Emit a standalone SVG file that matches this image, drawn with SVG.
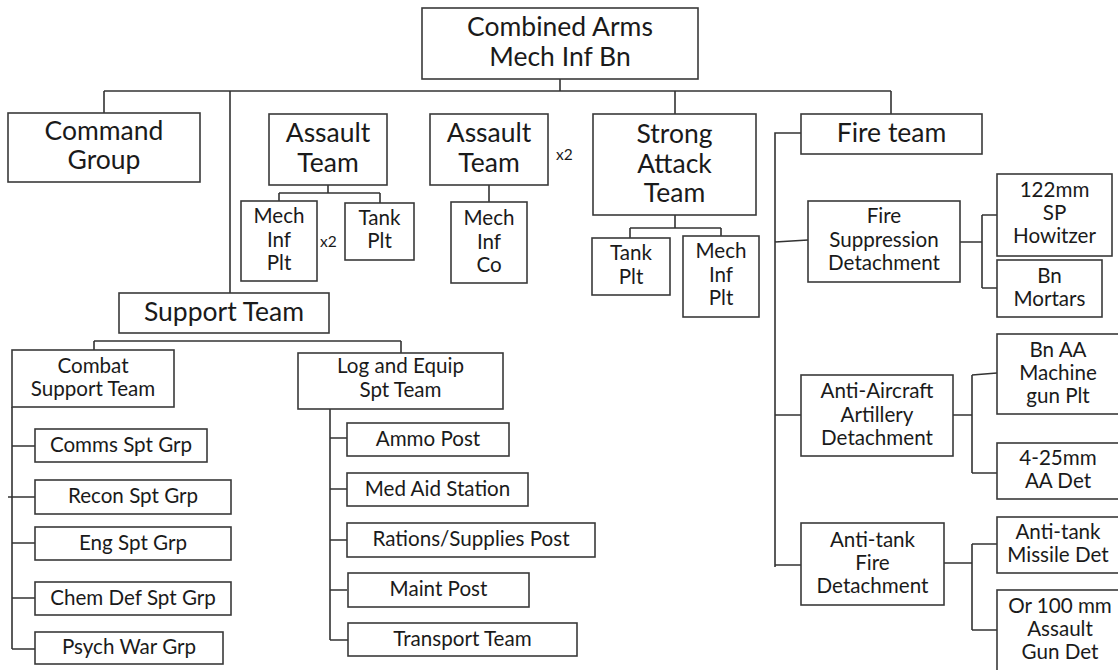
<svg xmlns="http://www.w3.org/2000/svg" width="1118" height="670" viewBox="0 0 1118 670">
<style>
rect{fill:#fff;stroke:#3a3a3a;stroke-width:1.6}
text{font-family:Lato,"Open Sans",sans-serif;fill:#1a1a1a;text-anchor:middle}
.L{font-size:26.5px}
.S{font-size:20.6px}
.X{font-size:15.5px;text-anchor:start}
#connectors path{fill:none;stroke:#333;stroke-width:1.6}
</style>
<rect x="0" y="0" width="1118" height="670" style="fill:#fff;stroke:none"/>
<g id="connectors">
<path d="M560,79V91M104,91H891M104,91V113M230,91V293M675,91V114M891,91V114"/>
<path d="M328,185V193M279,193H380M279,193V201M380,193V203"/>
<path d="M489,185V202"/>
<path d="M675,215V228M630,228H721M630,228V238M721,228V236"/>
<path d="M801,133H775V567M775,242L808,240M775,415H801M775,565H801"/>
<path d="M960,242H982M982,215V288M982,215H997M982,288H997"/>
<path d="M953,415H972M972,375V473M972,375L997,373M972,473H997"/>
<path d="M944,563H972M972,544V630M972,544H997M972,630H997"/>
<path d="M94,341H401M94,341V350M401,341V353"/>
<path d="M12,407V649M12,446H35M8,497H35M12,543H35M12,598H35M12,649H35"/>
<path d="M330,409V640M330,438H347M330,489H347M330,540H347M330,590H347M330,640H348"/>
</g>
<g id="n-top"><rect x="422" y="8" width="276" height="71"/><text class="L" x="560"><tspan x="560" y="36">Combined Arms</tspan><tspan x="560" y="66">Mech Inf Bn</tspan></text></g>
<g id="n-cmd"><rect x="8" y="113" width="192" height="69"/><text class="L"><tspan x="104" y="140">Command</tspan><tspan x="104" y="169">Group</tspan></text></g>
<g id="n-at1"><rect x="269" y="114" width="118" height="71"/><text class="L"><tspan x="328" y="142">Assault</tspan><tspan x="328" y="172">Team</tspan></text></g>
<g id="n-mip1"><rect x="241" y="201" width="76" height="80"/><text class="S"><tspan x="279" y="223">Mech</tspan><tspan x="279" y="247">Inf</tspan><tspan x="279" y="270">Plt</tspan></text></g>
<g id="n-x2a"><text class="X" x="320" y="247">x2</text></g>
<g id="n-tp1"><rect x="345" y="203" width="69" height="57"/><text class="S"><tspan x="379.5" y="225">Tank</tspan><tspan x="379.5" y="248">Plt</tspan></text></g>
<g id="n-at2"><rect x="430" y="114" width="118" height="71"/><text class="L"><tspan x="489" y="142">Assault</tspan><tspan x="489" y="172">Team</tspan></text></g>
<g id="n-x2b"><text class="X" x="556" y="160">x2</text></g>
<g id="n-mic"><rect x="451" y="202" width="76" height="81"/><text class="S"><tspan x="489" y="225">Mech</tspan><tspan x="489" y="249">Inf</tspan><tspan x="489" y="272">Co</tspan></text></g>
<g id="n-sat"><rect x="593" y="114" width="163" height="101"/><text class="L"><tspan x="674.5" y="143">Strong</tspan><tspan x="674.5" y="173">Attack</tspan><tspan x="674.5" y="202">Team</tspan></text></g>
<g id="n-tp2"><rect x="592" y="238" width="78" height="57"/><text class="S"><tspan x="631" y="260">Tank</tspan><tspan x="631" y="284">Plt</tspan></text></g>
<g id="n-mip2"><rect x="683" y="236" width="76" height="81"/><text class="S"><tspan x="721" y="258">Mech</tspan><tspan x="721" y="282">Inf</tspan><tspan x="721" y="305">Plt</tspan></text></g>
<g id="n-ft"><rect x="801" y="114" width="181" height="40"/><text class="L" x="891.5" y="142">Fire team</text></g>
<g id="n-fsd"><rect x="808" y="201" width="152" height="81"/><text class="S"><tspan x="884" y="223">Fire</tspan><tspan x="884" y="247">Suppression</tspan><tspan x="884" y="270">Detachment</tspan></text></g>
<g id="n-sph"><rect x="997" y="174" width="115" height="82"/><text class="S"><tspan x="1054.5" y="197">122mm</tspan><tspan x="1054.5" y="220">SP</tspan><tspan x="1054.5" y="243">Howitzer</tspan></text></g>
<g id="n-bnm"><rect x="997" y="260" width="105" height="57"/><text class="S"><tspan x="1049.5" y="283">Bn</tspan><tspan x="1049.5" y="306">Mortars</tspan></text></g>
<g id="n-sup"><rect x="119" y="293" width="210" height="40"/><text class="L" x="224" y="321">Support Team</text></g>
<g id="n-cst"><rect x="12" y="350" width="162" height="57"/><text class="S"><tspan x="93" y="373">Combat</tspan><tspan x="93" y="396">Support Team</tspan></text></g>
<g id="n-les"><rect x="298" y="353" width="205" height="56"/><text class="S"><tspan x="400.5" y="373">Log and Equip</tspan><tspan x="400.5" y="397">Spt Team</tspan></text></g>
<g id="n-comms"><rect x="35" y="429" width="172" height="33"/><text class="S" x="121" y="452">Comms Spt Grp</text></g>
<g id="n-recon"><rect x="35" y="480" width="196" height="34"/><text class="S" x="133" y="503">Recon Spt Grp</text></g>
<g id="n-eng"><rect x="35" y="527" width="196" height="33"/><text class="S" x="133" y="549.5">Eng Spt Grp</text></g>
<g id="n-chem"><rect x="35" y="582" width="196" height="33"/><text class="S" x="133" y="605">Chem Def Spt Grp</text></g>
<g id="n-psych"><rect x="35" y="632" width="188" height="32"/><text class="S" x="129" y="654">Psych War Grp</text></g>
<g id="n-ammo"><rect x="347" y="423" width="162" height="33"/><text class="S" x="428" y="445.5">Ammo Post</text></g>
<g id="n-med"><rect x="347" y="473" width="181" height="33"/><text class="S" x="437.5" y="495.5">Med Aid Station</text></g>
<g id="n-rations"><rect x="347" y="523" width="248" height="34"/><text class="S" x="471" y="546">Rations/Supplies Post</text></g>
<g id="n-maint"><rect x="348" y="573" width="181" height="34"/><text class="S" x="438.5" y="596">Maint Post</text></g>
<g id="n-transport"><rect x="348" y="623" width="229" height="33"/><text class="S" x="462.5" y="645.5">Transport Team</text></g>
<g id="n-aaa"><rect x="801" y="375" width="152" height="81"/><text class="S"><tspan x="877" y="398">Anti-Aircraft</tspan><tspan x="877" y="422">Artillery</tspan><tspan x="877" y="445">Detachment</tspan></text></g>
<g id="n-bnaa"><rect x="997" y="334" width="125" height="80"/><text class="S"><tspan x="1058" y="357">Bn AA</tspan><tspan x="1058" y="380">Machine</tspan><tspan x="1058" y="403">gun Plt</tspan></text></g>
<g id="n-aa425"><rect x="997" y="443" width="125" height="56"/><text class="S"><tspan x="1058" y="465">4-25mm</tspan><tspan x="1058" y="488">AA Det</tspan></text></g>
<g id="n-atf"><rect x="801" y="523" width="143" height="82"/><text class="S"><tspan x="872.5" y="547">Anti-tank</tspan><tspan x="872.5" y="570">Fire</tspan><tspan x="872.5" y="593">Detachment</tspan></text></g>
<g id="n-atm"><rect x="997" y="517" width="125" height="56"/><text class="S"><tspan x="1058" y="539">Anti-tank</tspan><tspan x="1058" y="562">Missile Det</tspan></text></g>
<g id="n-or100"><rect x="997" y="590" width="125" height="90"/><text class="S"><tspan x="1060" y="613">Or 100 mm</tspan><tspan x="1060" y="636">Assault</tspan><tspan x="1060" y="659">Gun Det</tspan></text></g>
</svg>
